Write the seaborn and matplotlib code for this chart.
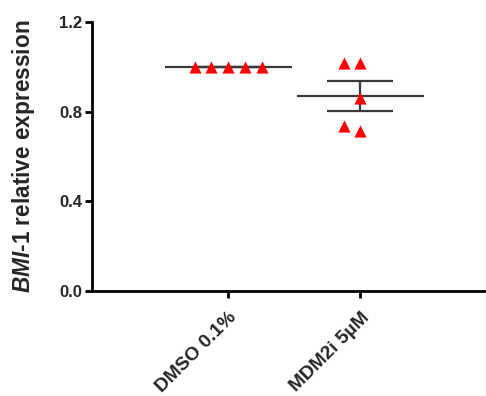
import numpy as np
import pandas as pd
import matplotlib
matplotlib.use("Agg")
import matplotlib.pyplot as plt
from matplotlib.path import Path
import seaborn as sns

groups = ["DMSO 0.1%", "MDM2i 5\u00b5M"]
dmso_values = [1.0, 1.0, 1.0, 1.0, 1.0]
mdm2i_values = [1.02, 1.02, 0.86, 0.713, 0.735]
y_ticks = [0.0, 0.4, 0.8, 1.2]
y_tick_labels = ["0.0", "0.4", "0.8", "1.2"]

sns.set_theme(style="ticks")
plt.rcParams["font.family"] = ["Liberation Sans", "DejaVu Sans"]
plt.rcParams["mathtext.fontset"] = "custom"
plt.rcParams["mathtext.rm"] = "Liberation Sans:bold"
plt.rcParams["mathtext.bf"] = "Liberation Sans:bold"
plt.rcParams["mathtext.it"] = "Liberation Sans:bold:italic"

df = pd.DataFrame({
    "group": [groups[0]] * len(dmso_values) + [groups[1]] * len(mdm2i_values),
    "value": dmso_values + mdm2i_values,
})

fig = plt.figure(figsize=(4.86, 3.96), dpi=100)
ax = fig.add_axes([0.189, 0.265, 0.811, 0.679])

sns.swarmplot(data=df, x="group", y="value", order=groups, ax=ax,
              marker="^", color="#ff0000", size=11.5, linewidth=0, zorder=3)
# draw the triangles a bit smaller than the swarm spacing
for coll in ax.collections:
    coll.set_paths([Path(p.vertices * 0.76, p.codes) for p in coll.get_paths()])

line_color = "#3a3a3a"
for i, g in enumerate(groups):
    vals = np.array(df.loc[df.group == g, "value"])
    m = vals.mean()
    sem = vals.std(ddof=1) / np.sqrt(len(vals))
    ax.hlines(m, i - 0.48, i + 0.48, color=line_color, lw=1.6, zorder=2)
    ax.errorbar(i, m, yerr=sem, color=line_color, lw=1.6, capsize=23.5,
                capthick=1.6, zorder=2)

ax.set_xlim(-1.03, 1.95)
ax.set_ylim(0, 1.2)
ax.set_yticks(y_ticks)
ax.set_yticklabels(y_tick_labels, fontsize=12, fontweight="bold")
ax.set_xticks([0, 1])
ax.set_xticklabels(groups, fontsize=13.8, fontweight="bold", rotation=45,
                   ha="right", va="top", rotation_mode="anchor")
ax.set_xlabel("")
ax.set_ylabel(r"$\mathit{BMI}$-$\mathit{1}$ relative expression",
              fontsize=16.3, fontweight="bold")
ax.yaxis.set_label_coords(-0.14, 0.50)
for s in ["top", "right"]:
    ax.spines[s].set_visible(False)
for s in ["left", "bottom"]:
    ax.spines[s].set_linewidth(2)
    ax.spines[s].set_color("black")
ax.tick_params(axis="both", width=2, length=5, color="black", pad=2)
ax.tick_params(axis="x", pad=8)

fig.savefig("out.png", dpi=100)
